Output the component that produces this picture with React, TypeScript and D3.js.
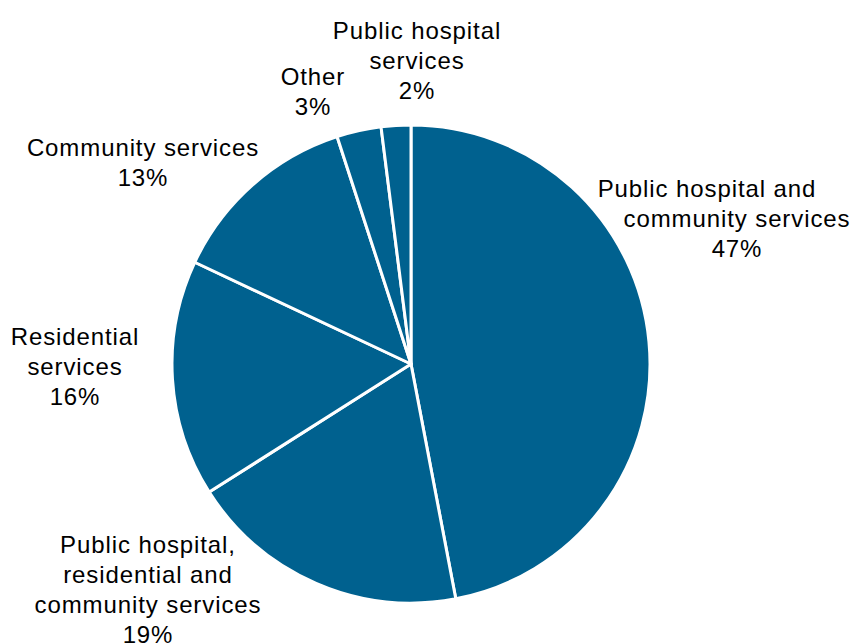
import React from "react";
import * as d3 from "d3";

const categories = [
  "Public hospital and community services",
  "Public hospital, residential and community services",
  "Residential services",
  "Community services",
  "Other",
  "Public hospital services",
];
const values = [47, 19, 16, 13, 3, 2];
const labelLines = [
  ["Public hospital and", "community services", "47%"],
  ["Public hospital,", "residential and", "community services", "19%"],
  ["Residential", "services", "16%"],
  ["Community services", "13%"],
  ["Other", "3%"],
  ["Public hospital", "services", "2%"],
];
// label anchor (center x, first-line baseline y)
const labelPos: [number, number][] = [
  [737, 197],
  [148, 553],
  [75, 345],
  [143, 156],
  [313, 85],
  [417, 39],
];
const firstLineShift = [-30, 0, 0, 0, 0, 0];

const W = 855;
const H = 644;
const cx = 411;
const cy = 364;
const R = 239;
const color = "#00618f";

export default function App() {
  const pie = d3
    .pie<number>()
    .sort(null)
    .value((d) => d)
    .startAngle(0)
    .endAngle(2 * Math.PI);
  const arcs = pie(values);
  const arc = d3.arc<d3.PieArcDatum<number>>().innerRadius(0).outerRadius(R);
  const lh = 30;
  return (
    <svg
      width={W}
      height={H}
      style={{ position: "absolute", left: 0, top: 0, background: "#fff" }}
      fontFamily="Liberation Sans, Arial, sans-serif"
    >
      <g transform={`translate(${cx},${cy})`}>
        {arcs.map((a, i) => (
          <path key={categories[i]} d={arc(a) || ""} fill={color} stroke="#fff" strokeWidth={3} strokeLinejoin="round" />
        ))}
      </g>
      {labelLines.map((lines, i) => (
        <text key={i} textAnchor="middle" fontSize={24} fill="#000" letterSpacing={0.9}>
          {lines.map((l, j) => (
            <tspan key={j} x={labelPos[i][0] + (j === 0 ? firstLineShift[i] : 0)} y={labelPos[i][1] + j * lh}>
              {l}
            </tspan>
          ))}
        </text>
      ))}
    </svg>
  );
}
